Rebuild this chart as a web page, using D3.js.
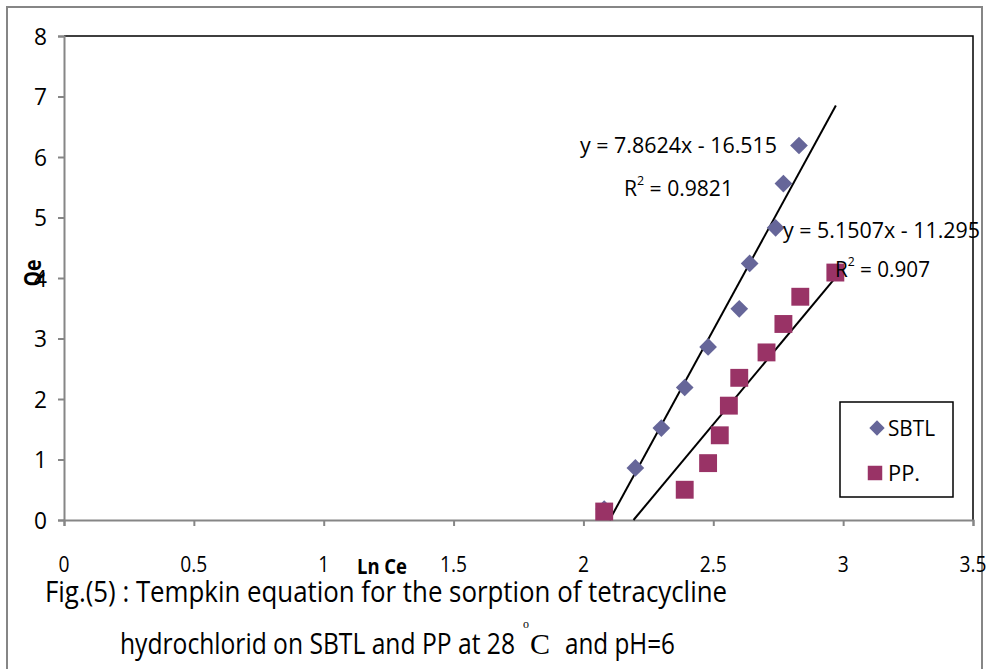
<!DOCTYPE html>
<html>
<head>
<meta charset="utf-8">
<script src="https://cdn.jsdelivr.net/npm/d3@7"></script>
<style>
  html, body { margin: 0; padding: 0; background: #fff; }
  svg { display: block; }
  text { font-family: "Open Sans", "Liberation Sans", sans-serif; fill: #000; }
</style>
</head>
<body>
<svg id="chart" width="992" height="669"></svg>
<script>
// ---- data ----
const sbtlX = [2.08, 2.20, 2.30, 2.39, 2.48, 2.60, 2.64, 2.74, 2.77, 2.83];
const sbtlY = [0.18, 0.86, 1.52, 2.19, 2.86, 3.49, 4.24, 4.83, 5.56, 6.19];
const ppX = [2.08, 2.39, 2.48, 2.525, 2.56, 2.60, 2.705, 2.77, 2.835, 2.97];
const ppY = [0.14, 0.50, 0.94, 1.40, 1.89, 2.35, 2.77, 3.24, 3.69, 4.09];
const sbtlFit = { slope: 7.8624, intercept: -16.515, xEnd: 2.972 };
const ppFit = { slope: 5.1507, intercept: -11.295, xEnd: 2.972 };
const xTicks = [0, 0.5, 1, 1.5, 2, 2.5, 3, 3.5];
const xTickLabels = ["0", "0.5", "1", "1.5", "2", "2.5", "3", "3.5"];
const yTicks = [0, 1, 2, 3, 4, 5, 6, 7, 8];
const yTickLabels = ["0", "1", "2", "3", "4", "5", "6", "7", "8"];
const seriesNames = ["SBTL", "PP."];
const eqTexts = ["y = 7.8624x - 16.515", "y = 5.1507x - 11.295"];
const r2Texts = ["0.9821", "0.907"];
const xTitle = "Ln Ce";
const yTitle = "Qe";
const caption1 = "Fig.(5) : Tempkin equation for the sorption of tetracycline";
const caption2a = "hydrochlorid on SBTL and PP at 28";
const caption2b = "and pH=6";

const svg = d3.select("#chart");
const L = 64, R = 973, T = 36, B = 520;
const x = d3.scaleLinear().domain([0, 3.5]).range([L, R]);
const y = d3.scaleLinear().domain([0, 8]).range([B, T]);

const axisGray = "#868686";
const blue = "#666699", plum = "#993366";

// outer chart border
svg.append("rect").attr("x", 7).attr("y", 7).attr("width", 975).attr("height", 680)
  .attr("fill", "none").attr("stroke", axisGray).attr("stroke-width", 2);

// plot area border (top & right black)
svg.append("path")
  .attr("d", `M${L},${T}H${R}V${B}`)
  .attr("fill", "none").attr("stroke", "#000").attr("stroke-width", 1.5);

// axes
const yAxis = d3.axisLeft(y).tickValues(yTicks).tickSize(6).tickFormat("");
const gy = svg.append("g").attr("transform", `translate(${L},0)`).call(yAxis);
const xAxis = d3.axisBottom(x).tickValues(xTicks).tickSize(6).tickFormat("");
const gx = svg.append("g").attr("transform", `translate(0,${B})`).call(xAxis);
[gx, gy].forEach(g => {
  g.select(".domain").attr("stroke", axisGray).attr("stroke-width", 2);
  g.selectAll(".tick line").attr("stroke", axisGray).attr("stroke-width", 2);
});

// tick labels
svg.append("g").selectAll("text").data(yTicks).join("text")
  .attr("x", 47).attr("y", d => y(d) + 8.5)
  .attr("text-anchor", "end").attr("font-size", 24)
  .attr("textLength", 13).attr("lengthAdjust", "spacingAndGlyphs")
  .text((d, i) => yTickLabels[i]);

svg.append("g").selectAll("text").data(xTicks).join("text")
  .attr("x", d => x(d)).attr("y", 572)
  .attr("text-anchor", "middle").attr("font-size", 22)
  .attr("textLength", (d, i) => xTickLabels[i].length === 1 ? 11 : 27)
  .attr("lengthAdjust", "spacingAndGlyphs")
  .text((d, i) => xTickLabels[i]);

// axis titles
svg.append("text").attr("x", 382).attr("y", 574).attr("text-anchor", "middle")
  .attr("font-size", 22).attr("font-weight", "bold")
  .attr("textLength", 50).attr("lengthAdjust", "spacingAndGlyphs").text(xTitle);
svg.append("text").attr("transform", "translate(41,273) rotate(-90)")
  .attr("text-anchor", "middle").attr("font-size", 23).attr("font-weight", "bold")
  .attr("textLength", 27).attr("lengthAdjust", "spacingAndGlyphs").text(yTitle);

// trend lines
function fitLine(fit) {
  const x0 = -fit.intercept / fit.slope;
  return [[x0, 0], [fit.xEnd, fit.slope * fit.xEnd + fit.intercept]];
}
const line = d3.line().x(d => x(d[0])).y(d => y(d[1]));
[sbtlFit, ppFit].forEach(f => {
  svg.append("path").attr("d", line(fitLine(f)))
    .attr("fill", "none").attr("stroke", "#000").attr("stroke-width", 2);
});

// markers
const diamond = d3.symbol().type(d3.symbolDiamond2).size(200);
const square = d3.symbol().type(d3.symbolSquare).size(320);
svg.append("g").selectAll("path").data(sbtlX.map((v, i) => [v, sbtlY[i]])).join("path")
  .attr("transform", d => `translate(${x(d[0])},${y(d[1])})`)
  .attr("d", diamond).attr("fill", blue);
svg.append("g").selectAll("path").data(ppX.map((v, i) => [v, ppY[i]])).join("path")
  .attr("transform", d => `translate(${x(d[0])},${y(d[1])})`)
  .attr("d", square).attr("fill", plum);

// equation labels
function eq(xp, yp, txt, w) {
  svg.append("text").attr("x", xp).attr("y", yp).attr("font-size", 22)
    .attr("textLength", w).attr("lengthAdjust", "spacingAndGlyphs").text(txt);
}
function r2(xp, yp, val, w) {
  const t = svg.append("text").attr("x", xp).attr("y", yp).attr("font-size", 22);
  t.append("tspan").text("R");
  t.append("tspan").attr("dy", -11).attr("font-size", 13).text("2");
  t.append("tspan").attr("dy", 11).text(" = " + val);
  t.attr("textLength", w).attr("lengthAdjust", "spacingAndGlyphs");
}
eq(580, 153, eqTexts[0], 197);
r2(624, 196, r2Texts[0], 109);
eq(783, 238, eqTexts[1], 197);
r2(835, 277, r2Texts[1], 95);

// legend
svg.append("rect").attr("x", 840).attr("y", 402).attr("width", 113).attr("height", 95)
  .attr("fill", "#fff").attr("stroke", "#000").attr("stroke-width", 1.5);
svg.append("path").attr("transform", "translate(877,428)")
  .attr("d", d3.symbol().type(d3.symbolDiamond2).size(150)).attr("fill", blue);
svg.append("path").attr("transform", "translate(875,473)")
  .attr("d", d3.symbol().type(d3.symbolSquare).size(210)).attr("fill", plum);
svg.append("text").attr("x", 888).attr("y", 436).attr("font-size", 22)
  .attr("textLength", 47).attr("lengthAdjust", "spacingAndGlyphs").text(seriesNames[0]);
svg.append("text").attr("x", 888).attr("y", 481).attr("font-size", 22)
  .attr("textLength", 32).attr("lengthAdjust", "spacingAndGlyphs").text(seriesNames[1]);

// caption
svg.append("text").attr("x", 45).attr("y", 602).attr("font-size", 30)
  .attr("textLength", 682).attr("lengthAdjust", "spacingAndGlyphs").text(caption1);
svg.append("text").attr("x", 120).attr("y", 654).attr("font-size", 30)
  .attr("textLength", 395).attr("lengthAdjust", "spacingAndGlyphs").text(caption2a);
svg.append("text").attr("x", 523).attr("y", 628).attr("font-size", 12)
  .style("font-family", "'Liberation Serif', serif").text("o");
svg.append("text").attr("x", 530).attr("y", 654).attr("font-size", 30)
  .style("font-family", "'Liberation Serif', serif").text("C");
svg.append("text").attr("x", 565).attr("y", 654).attr("font-size", 30)
  .attr("textLength", 110).attr("lengthAdjust", "spacingAndGlyphs").text(caption2b);
</script>
</body>
</html>
